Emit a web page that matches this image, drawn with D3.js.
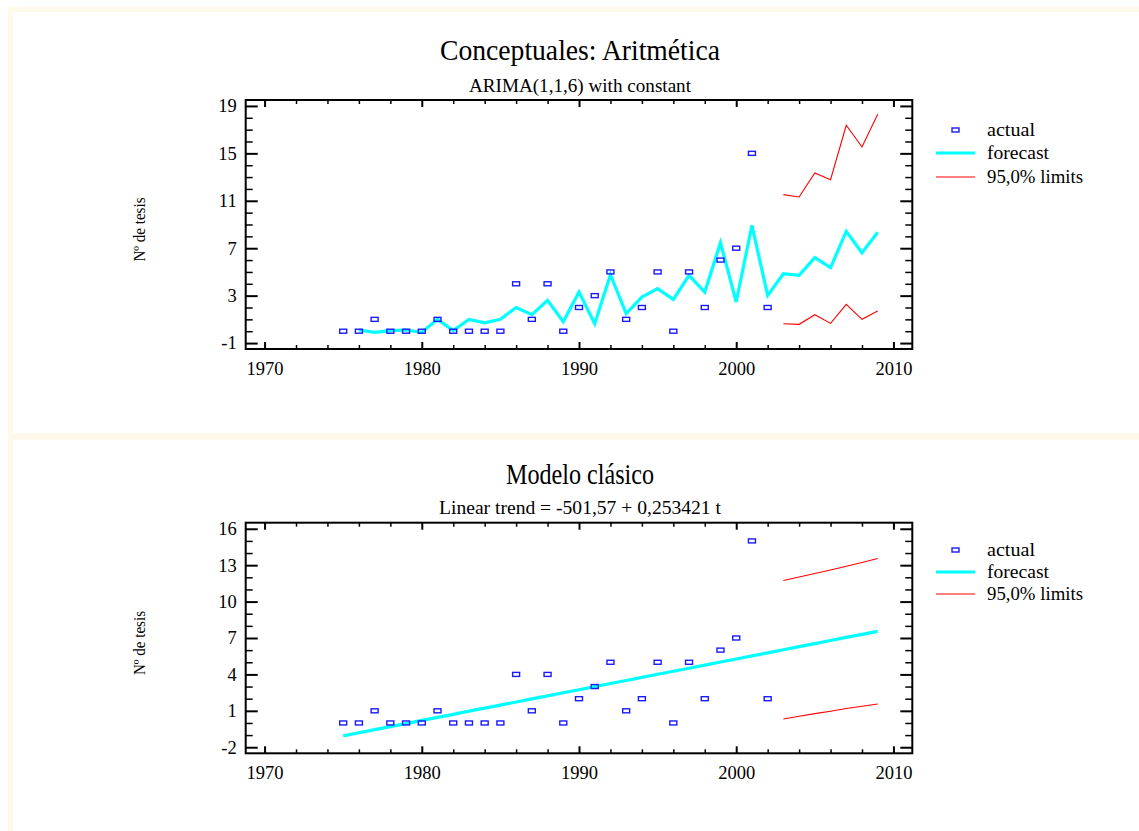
<!DOCTYPE html>
<html>
<head>
<meta charset="utf-8">
<script src="https://cdn.jsdelivr.net/npm/d3@7"></script>
<style>
  html, body { margin: 0; padding: 0; background: #ffffff; }
  svg { display: block; font-family: "Liberation Serif", "Times New Roman", serif; }
</style>
</head>
<body>
<svg id="chart" width="1139" height="831"></svg>
<script>
// ---------- DATA ----------
const actualYears = [1975,1976,1977,1978,1979,1980,1981,1982,1983,1984,1985,1986,1987,1988,1989,1990,1991,1992,1993,1994,1995,1996,1997,1998,1999,2000,2001,2002];
const actualValues = [0,0,1,0,0,0,1,0,0,0,0,4,1,4,0,2,3,5,1,2,5,0,5,2,6,7,15,2];

// Top panel: ARIMA(1,1,6) forecast
const arimaYears = [1976,1977,1978,1979,1980,1981,1982,1983,1984,1985,1986,1987,1988,1989,1990,1991,1992,1993,1994,1995,1996,1997,1998,1999,2000,2001,2002,2003,2004,2005,2006,2007,2008,2009];
const arimaForecast = [0.1,-0.1,0.05,0.1,-0.1,1.0,0.05,1.0,0.7,1.0,2.0,1.4,2.6,0.8,3.3,0.63,4.77,1.48,2.88,3.59,2.68,4.71,3.3,7.47,2.46,8.93,3.02,4.85,4.71,6.2,5.36,8.42,6.62,8.34];
const limitYears = [2003,2004,2005,2006,2007,2008,2009];
const arimaUpper = [11.52,11.32,13.35,12.78,17.37,15.54,18.3];
const arimaLower = [0.63,0.58,1.39,0.66,2.26,1.0,1.7];

// Bottom panel: linear trend
const trendYears = [1975,1976,1977,1978,1979,1980,1981,1982,1983,1984,1985,1986,1987,1988,1989,1990,1991,1992,1993,1994,1995,1996,1997,1998,1999,2000,2001,2002,2003,2004,2005,2006,2007,2008,2009];
const trendForecast = [-1.06,-0.81,-0.55,-0.30,-0.05,0.21,0.46,0.71,0.97,1.22,1.47,1.73,1.98,2.23,2.49,2.74,2.99,3.25,3.50,3.75,4.01,4.26,4.51,4.77,5.02,5.27,5.53,5.78,6.03,6.29,6.54,6.79,7.05,7.30,7.55];
const trendUpper = [11.74,12.02,12.31,12.61,12.91,13.22,13.55];
const trendLower = [0.32,0.55,0.77,0.97,1.19,1.38,1.56];

const xMajorTicks = [1970,1980,1990,2000,2010];
const xMinorTicks = [1972,1974,1976,1978,1982,1984,1986,1988,1992,1994,1996,1998,2002,2004,2006,2008];
const topYTicks = [-1,3,7,11,15,19];
const bottomYTicks = [-2,1,4,7,10,13,16];
const legendLabels = ["actual","forecast","95,0% limits"];

const titles = [
  {title: "Conceptuales: Aritmética", subtitle: "ARIMA(1,1,6) with constant"},
  {title: "Modelo clásico", subtitle: "Linear trend = -501,57 + 0,253421 t"}
];
const yLabel = "Nº de tesis";

// ---------- DRAW ----------
const svg = d3.select("#chart");
const cream = "#fff9ec";
svg.append("rect").attr("x",8).attr("y",7).attr("width",1131).attr("height",5).attr("fill",cream);
svg.append("rect").attr("x",8).attr("y",7).attr("width",5).attr("height",824).attr("fill",cream);
svg.append("rect").attr("x",8).attr("y",433).attr("width",1131).attr("height",7).attr("fill",cream);

function panel(cfg) {
  const g = svg.append("g");
  const x = d3.scaleLinear().domain([1968.8, 2011.2]).range([245.7, 912.3]);
  const y = d3.scaleLinear().domain(cfg.yDomain).range([cfg.bottom, cfg.top]);

  // titles
  g.append("text").attr("x", 580).attr("y", cfg.titleY).attr("text-anchor","middle")
    .attr("font-size", 30).attr("textLength", cfg.titleW).attr("lengthAdjust","spacingAndGlyphs")
    .attr("fill","#000").text(cfg.title);
  g.append("text").attr("x", 580).attr("y", cfg.subY).attr("text-anchor","middle")
    .attr("font-size", 19).attr("textLength", cfg.subW).attr("lengthAdjust","spacingAndGlyphs")
    .attr("fill","#000").text(cfg.subtitle);

  // y label
  const cy = (cfg.top + cfg.bottom) / 2 + 5;
  g.append("text").attr("transform", `translate(145,${cy}) rotate(-90)`).attr("text-anchor","middle")
    .attr("font-size", 16).attr("textLength", 64).attr("lengthAdjust","spacingAndGlyphs")
    .attr("fill","#000").text(yLabel);

  const yMinor = d3.range(Math.ceil(cfg.yDomain[0]), Math.floor(cfg.yDomain[1]) + 1).filter(v => !cfg.yTicks.includes(v));

  const styleAxis = (sel, w) => {
    sel.select(".domain").remove();
    sel.selectAll(".tick line").attr("stroke","#000").attr("stroke-width", w);
    sel.selectAll(".tick text").attr("fill","#000").attr("font-family","Liberation Serif, serif").attr("font-size",18.5);
  };
  const fmt = d => String(d);

  // left axis
  g.append("g").attr("transform",`translate(${x.range()[0]},0)`)
    .call(d3.axisLeft(y).tickValues(cfg.yTicks).tickSize(-12).tickPadding(9).tickFormat(fmt))
    .call(s => styleAxis(s, 2));
  g.append("g").attr("transform",`translate(${x.range()[0]},0)`)
    .call(d3.axisLeft(y).tickValues(yMinor).tickSize(-7).tickFormat(""))
    .call(s => styleAxis(s, 1.5));
  // right axis
  g.append("g").attr("transform",`translate(${x.range()[1]},0)`)
    .call(d3.axisRight(y).tickValues(cfg.yTicks).tickSize(-12).tickFormat(""))
    .call(s => styleAxis(s, 2));
  g.append("g").attr("transform",`translate(${x.range()[1]},0)`)
    .call(d3.axisRight(y).tickValues(yMinor).tickSize(-7).tickFormat(""))
    .call(s => styleAxis(s, 1.5));
  // bottom axis
  g.append("g").attr("transform",`translate(0,${cfg.bottom})`)
    .call(d3.axisBottom(x).tickValues(xMajorTicks).tickSize(-7).tickPadding(13).tickFormat(fmt))
    .call(s => styleAxis(s, 2));
  g.append("g").attr("transform",`translate(0,${cfg.bottom})`)
    .call(d3.axisBottom(x).tickValues(xMinorTicks).tickSize(-4).tickFormat(""))
    .call(s => styleAxis(s, 1.5));
  // top axis
  g.append("g").attr("transform",`translate(0,${cfg.top})`)
    .call(d3.axisTop(x).tickValues(xMajorTicks).tickSize(-7).tickFormat(""))
    .call(s => styleAxis(s, 2));
  g.append("g").attr("transform",`translate(0,${cfg.top})`)
    .call(d3.axisTop(x).tickValues(xMinorTicks).tickSize(-4).tickFormat(""))
    .call(s => styleAxis(s, 1.5));

  // frame
  g.append("rect").attr("x", x.range()[0]).attr("y", cfg.top)
    .attr("width", x.range()[1] - x.range()[0]).attr("height", cfg.bottom - cfg.top)
    .attr("fill","none").attr("stroke","#000").attr("stroke-width",2);

  const line = d3.line().x(d => x(d[0])).y(d => y(d[1]));

  // limits
  const up = limitYears.map((yr,i) => [yr, cfg.upper[i]]);
  const lo = limitYears.map((yr,i) => [yr, cfg.lower[i]]);
  [up, lo].forEach(arr => g.append("path").datum(arr).attr("d", line)
    .attr("fill","none").attr("stroke","#ff0000").attr("stroke-width",1.1));

  // forecast
  const fc = cfg.fYears.map((yr,i) => [yr, cfg.forecast[i]]);
  g.append("path").datum(fc).attr("d", line).attr("fill","none")
    .attr("stroke","#00ffff").attr("stroke-width",3.2).attr("stroke-linejoin","miter");

  // actual markers
  g.selectAll("rect.pt").data(actualYears.map((yr,i)=>[yr, actualValues[i]])).join("rect")
    .attr("class","pt")
    .attr("x", d => x(d[0]) - 3.5).attr("y", d => y(d[1]) - 2)
    .attr("width", 7).attr("height", 4)
    .attr("fill","none").attr("stroke","#1a1aff").attr("stroke-width",1.4);

  // legend
  const L = g.append("g");
  const ly = cfg.legendY;
  L.append("rect").attr("x", 952).attr("y", ly[0] - 2).attr("width",7).attr("height",4)
    .attr("fill","none").attr("stroke","#1a1aff").attr("stroke-width",1.4);
  L.append("line").attr("x1",936).attr("x2",975).attr("y1",ly[1]).attr("y2",ly[1])
    .attr("stroke","#00ffff").attr("stroke-width",3.2);
  L.append("line").attr("x1",936).attr("x2",975).attr("y1",ly[2]).attr("y2",ly[2])
    .attr("stroke","#ff0000").attr("stroke-width",1.1);
  const legendW = [48, 62, 96];
  legendLabels.forEach((t,i) => {
    L.append("text").attr("x", 987).attr("y", ly[i] + 6).attr("font-size", 18.5)
      .attr("textLength", legendW[i]).attr("lengthAdjust","spacingAndGlyphs")
      .attr("fill","#000").text(t);
  });
}

panel({
  title: titles[0].title, subtitle: titles[0].subtitle,
  titleY: 60, subY: 92, titleW: 280, subW: 222,
  top: 100, bottom: 349, yDomain: [-1.5, 19.5], yTicks: topYTicks,
  fYears: arimaYears, forecast: arimaForecast, upper: arimaUpper, lower: arimaLower,
  legendY: [130, 153, 177]
});
panel({
  title: titles[1].title, subtitle: titles[1].subtitle,
  titleY: 484, subY: 514, titleW: 148, subW: 282,
  top: 522.7, bottom: 753.3, yDomain: [-2.5, 16.5], yTicks: bottomYTicks,
  fYears: trendYears, forecast: trendForecast, upper: trendUpper, lower: trendLower,
  legendY: [550, 572, 594]
});
</script>
</body>
</html>
